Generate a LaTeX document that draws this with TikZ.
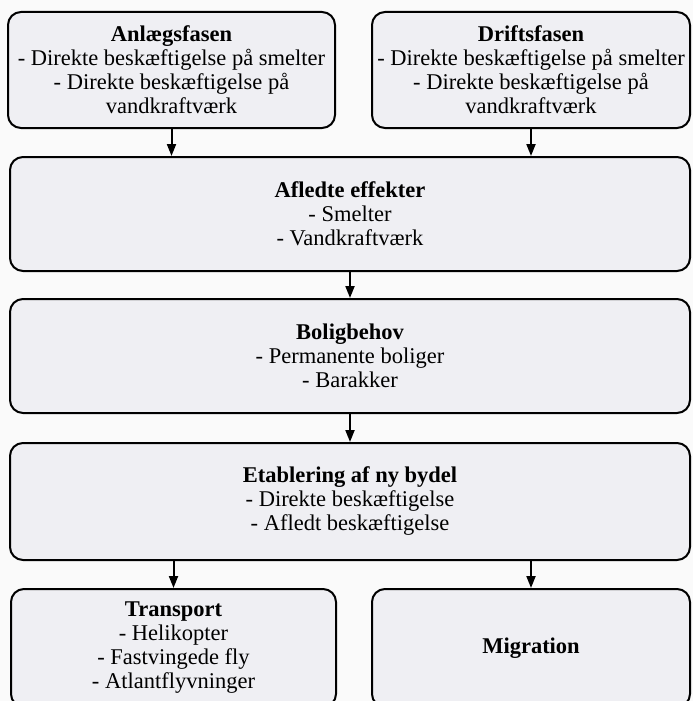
\documentclass[tikz,border=0pt]{standalone}
\usepackage{fontspec}
\setmainfont{Liberation Serif}
\usetikzlibrary{arrows.meta}
\definecolor{boxfill}{RGB}{239,239,243}
\definecolor{pagebg}{RGB}{250,250,250}
\tikzset{
  fasebox/.style={draw=black, line width=2pt, fill=boxfill, rounded corners=13pt,
    align=center, inner sep=0pt, minimum height=116pt,
    font=\fontsize{22.5}{24}\selectfont},
  pil/.style={line width=2pt, -{Triangle[length=12pt,width=9pt]}}
}
\begin{document}
\begin{tikzpicture}[x=1pt,y=-1pt]
	\fill[pagebg] (0,0) rectangle (693,701);
	\useasboundingbox (0,0) rectangle (693,701);
	\clip (0,0) rectangle (693,701);
	% faser
	\node[fasebox, minimum width=327pt] (anl) at (171.5,70) {\textbf{Anlægsfasen}\\- Direkte beskæftigelse på smelter\\- Direkte beskæftigelse på\\vandkraftværk};
	\node[fasebox, minimum width=318pt] (drift) at (531,70) {\textbf{Driftsfasen}\\- Direkte beskæftigelse på smelter\\- Direkte beskæftigelse på\\vandkraftværk};
	% effekter
	\node[fasebox, minimum width=680pt, minimum height=114pt] (afl) at (350,214) {\textbf{Afledte effekter}\\- Smelter\\- Vandkraftværk};
	\node[fasebox, minimum width=680pt, minimum height=114pt] (bolig) at (350,356) {\textbf{Boligbehov}\\- Permanente boliger\\- Barakker};
	\node[fasebox, minimum width=680pt, minimum height=117pt] (etab) at (350,501.5) {\textbf{Etablering af ny bydel}\\- Direkte beskæftigelse\\- Afledt beskæftigelse};
	\node[fasebox, minimum width=325pt, minimum height=118pt] (trans) at (173.5,648) {\textbf{Transport}\\- Helikopter\\- Fastvingede fly\\- Atlantflyvninger};
	\node[fasebox, minimum width=318pt, minimum height=118pt] (migr) at (531,648) {\textbf{Migration}};
	% pile
	\draw[pil] (anl.south) -- (anl.south |- afl.north);
	\draw[pil] (drift.south) -- (drift.south |- afl.north);
	\draw[pil] (afl) -- (bolig);
	\draw[pil] (bolig) -- (etab);
	\draw[pil] (etab.south -| trans.north) -- (trans);
	\draw[pil] (etab.south -| migr.north) -- (migr);
\end{tikzpicture}
\end{document}
